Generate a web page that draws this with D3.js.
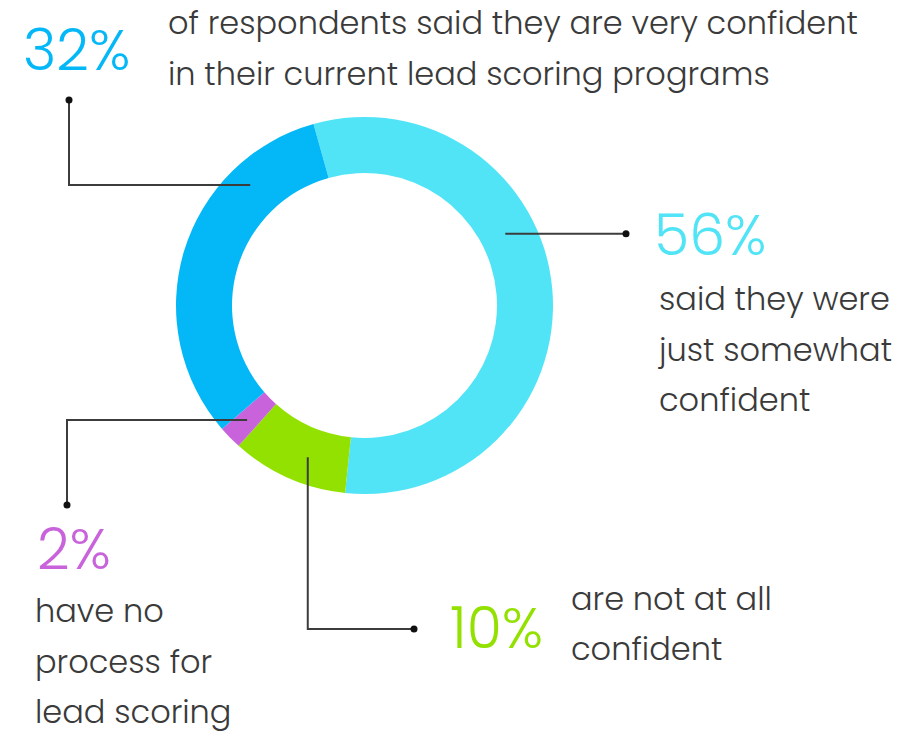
<!DOCTYPE html>
<html>
<head>
<meta charset="utf-8">
<script src="https://cdn.jsdelivr.net/npm/d3@7"></script>
<style>
  body { margin: 0; background: #fff; }
  text { font-family: "Poppins", "Lato", "Open Sans", sans-serif; }
</style>
</head>
<body>
<div id="chart"></div>
<script>
// data
var categories = ["somewhat", "notAtAll", "noProcess", "very"];
var values = [56, 10, 2, 32];
var pctLabels = ["56%", "10%", "2%", "32%"];
var descriptions = [
    ["said they were", "just somewhat", "confident"],
    ["are not at all", "confident"],
    ["have no", "process for", "lead scoring"],
    ["of respondents said they are very confident", "in their current lead scoring programs"]
];
var colors = ["#51e4f7", "#93e100", "#c963db", "#04b8f8"];

var svgWidth = 922;
var svgHeight = 732;
var cx = 364.5, cy = 305.5;
var outerR = 188.5, innerR = 132.5;
var startAngle = -15.7 * Math.PI / 180;
var textColor = "#3a3a3a";
var lineColor = "#3c3c3c";

var svg = d3.select("#chart")
    .append("svg")
    .attr("width", svgWidth)
    .attr("height", svgHeight);

var pie = d3.pie()
    .sort(null)
    .value(d => d)
    .startAngle(startAngle)
    .endAngle(startAngle + 2 * Math.PI);

var arc = d3.arc()
    .innerRadius(innerR)
    .outerRadius(outerR);

var arcs = pie(values);

var donut = svg.append("g")
    .attr("transform", `translate(${cx}, ${cy})`);

donut.selectAll("path")
    .data(arcs)
    .enter()
    .append("path")
    .attr("d", arc)
    .attr("fill", (d, i) => colors[i]);

// callout layout: anchor angle inside ring (deg), elbow / dot positions, text blocks
var callouts = [
    { angle: 63, r: 158, path: (p) => [[p[0], p[1]], [626, p[1]]],
      pct: { x: 654, y: 255, size: 57 },
      desc: { x: 659, y: 310, lh: 50.5, size: 32 } },
    { angle: 200.5, r: 162, path: (p) => [[p[0], p[1]], [p[0], 629], [414, 629]],
      pct: { x: 450, y: 648, size: 57 },
      desc: { x: 571, y: 610, lh: 50, size: 32 } },
    { angle: 225.7, r: 164, path: (p) => [[p[0], p[1]], [67, p[1]], [67, 505]],
      pct: { x: 37, y: 569, size: 57 },
      desc: { x: 35, y: 622, lh: 50.5, size: 32 } },
    { angle: -43.5, r: 166, path: (p) => [[p[0], p[1]], [69, p[1]], [69, 100]],
      pct: { x: 23, y: 70, size: 57 },
      desc: { x: 168, y: 34, lh: 50.5, size: 32 } }
];

var labels = svg.append("g");

callouts.forEach(function(c, i) {
    var pr = d3.pointRadial(c.angle * Math.PI / 180, c.r);
    var p = [cx + pr[0], cy + pr[1]];
    var pts = c.path(p);

    labels.append("path")
        .attr("d", d3.line()(pts))
        .attr("fill", "none")
        .attr("stroke", lineColor)
        .attr("stroke-width", 2);

    var end = pts[pts.length - 1];
    labels.append("circle")
        .attr("cx", end[0])
        .attr("cy", end[1])
        .attr("r", 3.5)
        .attr("fill", "#111");

    labels.append("text")
        .attr("x", c.pct.x)
        .attr("y", c.pct.y)
        .attr("fill", colors[i])
        .style("font-size", c.pct.size + "px")
        .style("font-weight", 300)
        .text(pctLabels[i]);

    var desc = labels.append("text")
        .attr("x", c.desc.x)
        .attr("y", c.desc.y)
        .attr("fill", textColor)
        .style("font-size", c.desc.size + "px")
        .style("font-weight", 300);

    desc.selectAll("tspan")
        .data(descriptions[i])
        .enter()
        .append("tspan")
        .attr("x", c.desc.x)
        .attr("dy", (d, j) => j === 0 ? 0 : c.desc.lh)
        .text(d => d);
});
</script>
</body>
</html>
